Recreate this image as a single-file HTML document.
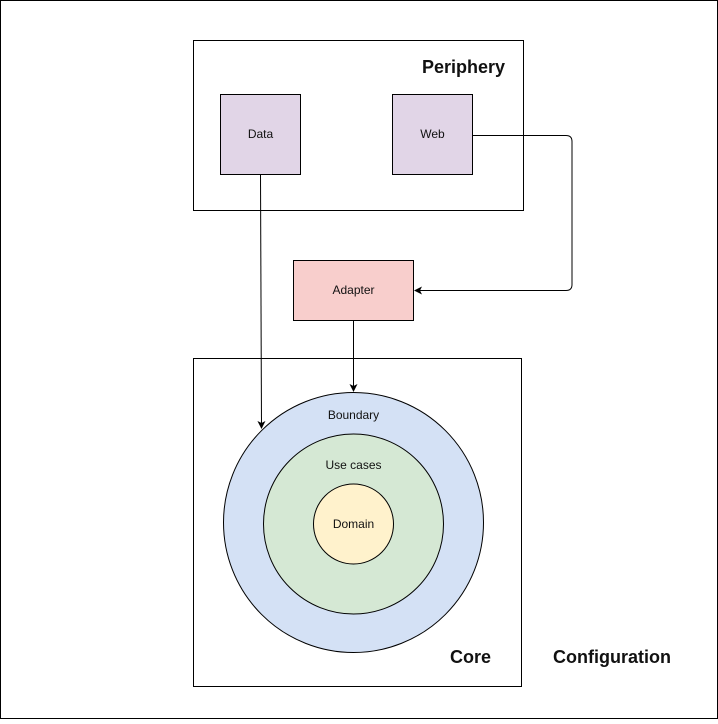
<!DOCTYPE html>
<html><head><style>
body{margin:0;background:#fff}
svg text{font-family:"Liberation Sans",Arial,sans-serif;fill:#111}
</style></head><body>
<svg width="718" height="719" viewBox="0 0 718 719" xmlns="http://www.w3.org/2000/svg">
<defs><marker id="a" markerWidth="8" markerHeight="8" refX="7" refY="4" orient="auto" markerUnits="userSpaceOnUse"><path d="M0,0 L8,4 L0,8 L2,4 Z" fill="#000"/></marker></defs>
<rect x="0.5" y="0.5" width="717" height="718" fill="#fff" stroke="#000"/>
<rect x="193.5" y="40.5" width="330" height="170" fill="#fff" stroke="#000"/>
<text x="505" y="73" font-size="18" font-weight="bold" text-anchor="end">Periphery</text>
<rect x="220.5" y="94.5" width="80" height="80" fill="#e1d5e7" stroke="#000"/>
<text x="260.5" y="138" font-size="12" text-anchor="middle">Data</text>
<rect x="392.5" y="94.5" width="80" height="80" fill="#e1d5e7" stroke="#000"/>
<text x="432.5" y="138" font-size="12" text-anchor="middle">Web</text>
<rect x="293.5" y="260.5" width="120" height="60" fill="#f8cecc" stroke="#000"/>
<text x="353.5" y="294" font-size="12" text-anchor="middle">Adapter</text>
<rect x="193.5" y="358.5" width="328" height="328" fill="#fff" stroke="#000"/>
<circle cx="353.5" cy="522.5" r="130" fill="#d4e1f5" stroke="#000"/>
<circle cx="353.5" cy="524" r="90" fill="#d5e8d4" stroke="#000"/>
<circle cx="353.5" cy="524" r="40" fill="#fff2cc" stroke="#000"/>
<text x="353.5" y="419" font-size="12" text-anchor="middle">Boundary</text>
<text x="353.5" y="469" font-size="12" text-anchor="middle">Use cases</text>
<text x="353.5" y="528" font-size="12" text-anchor="middle">Domain</text>
<text x="491" y="663" font-size="18" font-weight="bold" text-anchor="end">Core</text>
<text x="553" y="663" font-size="18" font-weight="bold">Configuration</text>
<path d="M260.5,174.5 L261.5,428" fill="none" stroke="#000" marker-end="url(#a)"/>
<path d="M472.5,135.5 L566,135.5 Q572,135.5 572,141.5 L572,284.5 Q572,290.5 566,290.5 L415,290.5" fill="none" stroke="#000" marker-end="url(#a)"/>
<path d="M353.5,320.5 L353.5,391" fill="none" stroke="#000" marker-end="url(#a)"/>
</svg>
</body></html>
